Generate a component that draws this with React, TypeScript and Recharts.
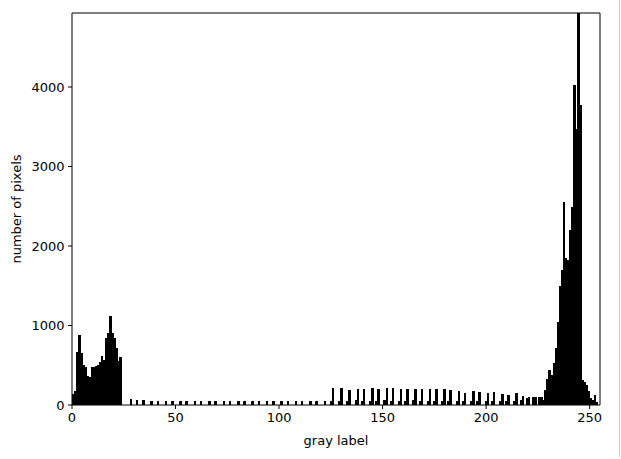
import React from "react";
import { BarChart, Bar, XAxis, YAxis, ReferenceLine } from "recharts";

// gray levels 0..23 (dark cluster)
const darkCounts = [
    140, 170, 670, 880, 650, 500, 480, 360, 350, 480, 480, 490, 500, 540,
    620, 570, 840, 910, 1120, 900, 840, 720, 550, 600,
];

// sparse low levels [bin, count]
const sparseLow: [number, number][] = [
    [28, 70], [31, 60], [34, 65], [38, 50], [41, 55], [45, 50], [48, 55],
    [52, 45], [55, 50], [59, 50], [62, 45], [66, 50], [69, 45], [73, 50],
    [76, 45], [80, 50], [83, 45], [87, 45], [90, 50], [94, 45], [97, 50],
    [101, 45], [104, 50], [108, 45], [111, 50], [115, 45], [118, 55], [122, 50],
];

// mid-tone levels: tall bar with a short neighbour just before it
const midBins = [
    126, 130, 134, 138, 141, 145, 148, 152, 155, 159, 162, 166, 169, 173, 176,
    180, 183, 187, 190, 194, 197, 201, 204, 208, 211, 215, 218, 221, 224,
];
const midTall = [
    210, 220, 190, 195, 200, 210, 200, 215, 210, 200, 195, 200, 200, 200, 200,
    200, 185, 175, 155, 180, 165, 150, 160, 140, 130, 150, 110, 100, 100,
];
const midShort = [
    50, 55, 50, 60, 50, 55, 50, 60, 55, 50, 55, 60, 50, 55, 50,
    55, 50, 55, 50, 45, 55, 50, 45, 50, 45, 50, 60, 90, 95,
];

// bright cluster, levels 226..255
const brightCounts = [
    100, 100, 60, 190, 330, 440, 380, 530, 720, 1050, 1500, 1700, 2550, 1850,
    1820, 2200, 2490, 4030, 3470, 4931, 3770, 310, 290, 250, 180, 90, 60, 130,
    40, 0,
];

const xTicks = [0, 50, 100, 150, 200, 250];
const yTicks = [0, 1000, 2000, 3000, 4000];

const counts: number[] = new Array(256).fill(0);
darkCounts.forEach((c, i) => (counts[i] = c));
sparseLow.forEach(([b, c]) => (counts[b] = c));
midBins.forEach((b, i) => {
    counts[b] = midTall[i];
    counts[b - 1] = midShort[i];
});
brightCounts.forEach((c, i) => (counts[226 + i] = c));
const rows = counts.map((count, bin) => ({ bin, count }));

const font = "'DejaVu Sans', sans-serif";

// bars touch each other like matplotlib's hist
const HistBar = (props: any) => {
    const { x, y, width, height, background } = props;
    if (!height || height <= 0) return null;
    const w = Math.max(width, background && background.width ? background.width : width) + 0.5;
    return <rect x={x} y={y} width={w} height={height} fill="#000" shapeRendering="crispEdges" />;
};

export default function App() {
    return (
        <div style={{ position: "absolute", left: 0, top: 0, width: 621, height: 459, background: "#fff" }}>
            <BarChart
                width={621}
                height={459}
                data={rows}
                margin={{ top: 13, right: 21, bottom: 0, left: 0 }}
                barCategoryGap={0}
                barGap={0}
            >
                <XAxis dataKey="bin" hide height={0} />
                <XAxis
                    xAxisId="v"
                    type="number"
                    domain={[0, 255]}
                    ticks={xTicks}
                    height={54}
                    tickSize={4}
                    tickMargin={3.5}
                    stroke="#000"
                    tick={{ fill: "#000", fontSize: 13, fontFamily: font }}
                    label={{
                        value: "gray label",
                        position: "insideBottom",
                        offset: 14,
                        fill: "#000",
                        fontSize: 13,
                        fontFamily: font,
                    }}
                />
                <YAxis
                    domain={[0, 4931]}
                    ticks={yTicks}
                    allowDataOverflow
                    width={72}
                    tickSize={4}
                    tickMargin={3.5}
                    stroke="#000"
                    tick={{ fill: "#000", fontSize: 13, fontFamily: font }}
                    label={{
                        value: "number of pixels",
                        angle: -90,
                        position: "center",
                        dx: -20,
                        fill: "#000",
                        fontSize: 13,
                        fontFamily: font,
                    }}
                />
                <Bar dataKey="count" shape={HistBar} isAnimationActive={false} />
                <ReferenceLine y={4931} stroke="#000" />
                <ReferenceLine x={255} xAxisId="v" stroke="#000" />
            </BarChart>
            <div style={{ position: "absolute", left: 619, top: 0, width: 1, height: 457, background: "#cfcfcf" }} />
        </div>
    );
}
